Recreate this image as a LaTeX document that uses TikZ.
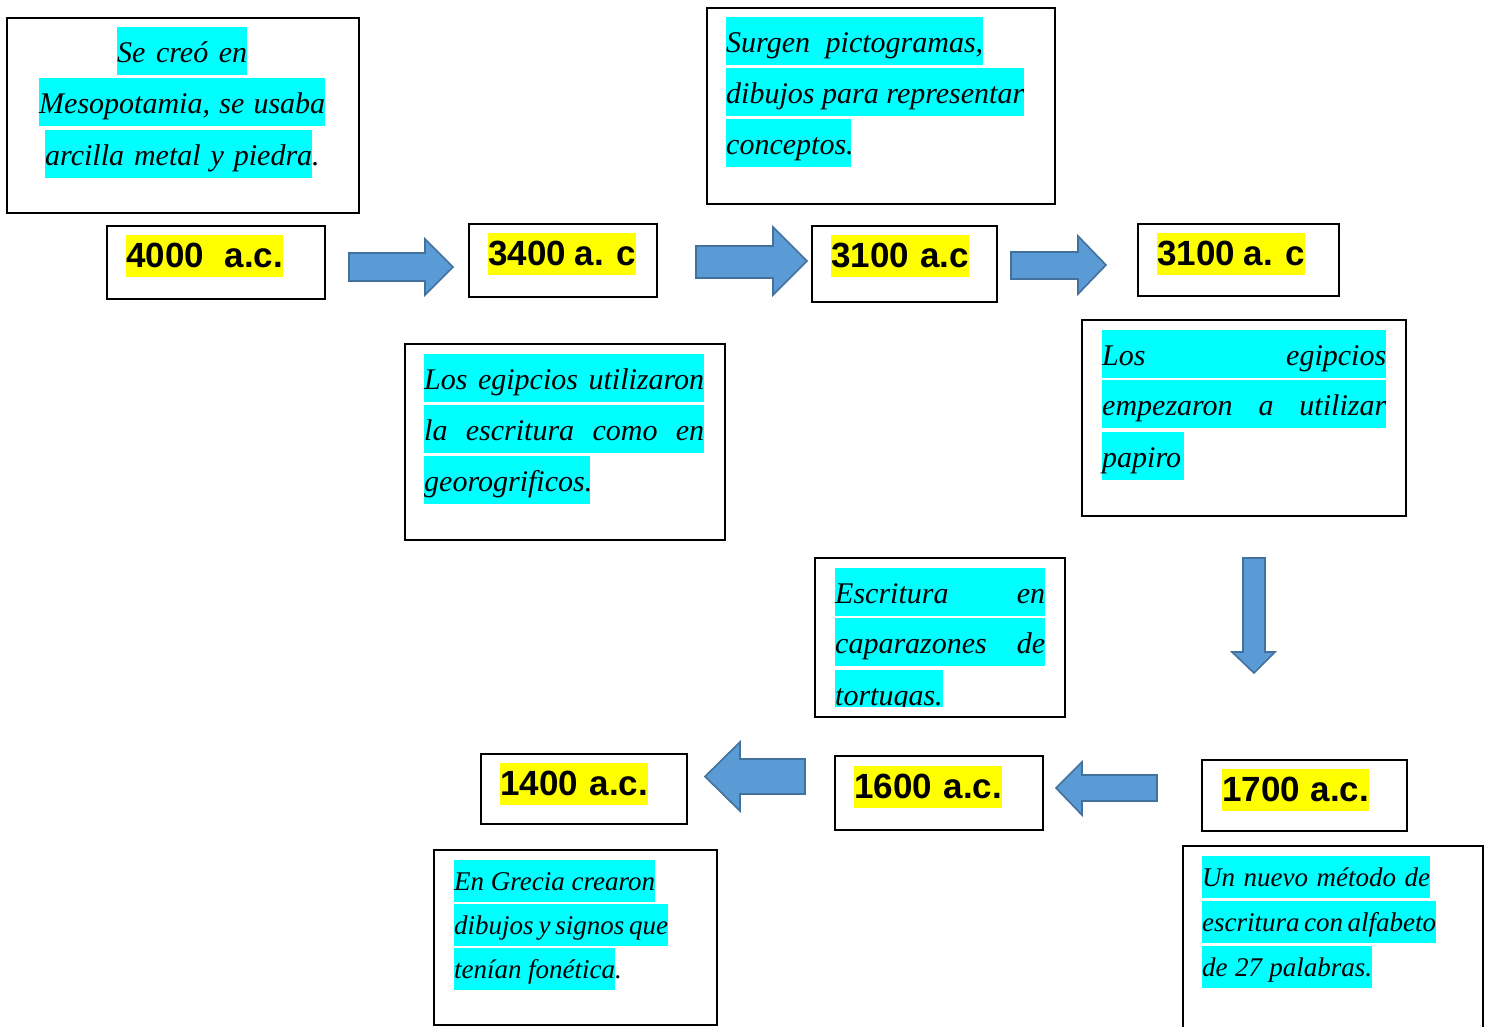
\documentclass[tikz,border=0pt]{standalone}
\usepackage{fontspec}
\setmainfont{Liberation Serif}
\newfontfamily\datefont{Liberation Sans}
\definecolor{hlcyan}{RGB}{0,255,255}
\definecolor{hlyellow}{RGB}{255,255,0}
\definecolor{arrfill}{RGB}{91,155,213}
\definecolor{arrline}{RGB}{65,113,156}
\newcommand\frbox[5]{\node[frame,minimum width=#4pt,minimum height=#5pt] (#1) at (#2,#3) {};}
\newcommand\hlline[5]{\node[#1] (#2) at (#3) {\makebox[#4pt][s]{#5}};}
\begin{document}
\begin{tikzpicture}[x=1pt,y=-1pt,
 frame/.style={draw=black, line width=2pt, anchor=north west, inner sep=0pt},
 hl/.style={fill=hlcyan, anchor=north west, inner sep=0pt, text height=35pt, text depth=13pt, font=\fontsize{30}{36}\selectfont\itshape},
 hls/.style={hl, text height=30pt, text depth=12pt, font=\fontsize{27}{32}\selectfont\itshape},
 datehl/.style={fill=hlyellow, anchor=north west, inner sep=0pt, text height=32pt, text depth=10pt, font=\fontsize{35}{42}\selectfont\datefont\bfseries},
 blockarrow/.style={fill=arrfill, draw=arrline, line width=1.6pt, line join=miter}]
\useasboundingbox[fill=white] (0,0) rectangle (1490,1026);

% frames
\frbox{b1}{6}{17}{352}{195}
\frbox{d4000}{106}{225}{218}{73}
\frbox{d3400}{468}{223}{188}{73}
\frbox{d3100a}{811}{225}{185}{76}
\frbox{d3100b}{1137}{223}{201}{72}
\frbox{bsurgen}{706}{7}{348}{196}
\frbox{begip}{404}{343}{320}{196}
\frbox{bpapiro}{1081}{319}{324}{196}
\frbox{btort}{814}{557}{250}{159}
\frbox{d1700}{1201}{759}{205}{71}
\frbox{d1600}{834}{755}{208}{74}
\frbox{d1400}{480}{753}{206}{70}
\frbox{bgrecia}{433}{849}{283}{175}
\frbox{bnuevo}{1182}{845}{300}{200}

% date labels
\hlline{datehl}{t4000}{126,235}{157}{4000\ \ a.c.}
\hlline{datehl}{t3400}{488,233}{148}{3400 a. c}
\hlline{datehl}{t3100a}{831,235}{138}{3100 a.c}
\hlline{datehl}{t3100b}{1157,233}{148}{3100 a. c}
\hlline{datehl}{t1700}{1222,769}{147}{1700 a.c.}
\hlline{datehl}{t1600}{854,766}{148}{1600 a.c.}
\hlline{datehl}{t1400}{500,763}{148}{1400 a.c.}

% text box 1
\hlline{hl}{a1}{117,27}{130}{Se creó en}
\hlline{hl}{a2}{39,78}{286}{Mesopotamia, se usaba}
\hlline{hl}{a3}{45,130}{267}{arcilla metal y piedra\rlap{.}}

% Surgen
\hlline{hl}{s1}{726,17}{257}{Surgen pictogramas,}
\hlline{hl}{s2}{726,68}{298}{dibujos para representar}
\hlline{hl}{s3}{726,119}{125}{conceptos.}

% egipcios 1
\hlline{hl}{e1}{424,354}{280}{Los egipcios utilizaron}
\hlline{hl}{e2}{424,405}{280}{la escritura como en}
\hlline{hl}{e3}{424,456}{166}{georogrificos.}

% papiro
\hlline{hl}{p1}{1102,330}{284}{Los egipcios}
\hlline{hl}{p2}{1102,380}{284}{empezaron a utilizar}
\hlline{hl}{p3}{1102,432}{82}{papiro}

% tortugas
\hlline{hl}{o1}{835,568}{210}{Escritura en}
\hlline{hl}{o2}{835,618}{210}{caparazones de}
\begin{scope}
\clip (835,670) rectangle (943,706);
\hlline{hl}{o3}{835,670}{108}{tortugas.}
\end{scope}

% Grecia
\hlline{hls}{g1}{454,860}{201}{En Grecia crearon}
\hlline{hls}{g2}{454,904}{214}{dibujos y signos que}
\hlline{hls}{g3}{454,948}{161}{tenían fonética\rlap{.}}

% nuevo
\hlline{hls}{n1}{1202,856}{228}{Un nuevo método de}
\hlline{hls}{n2}{1202,901}{234}{escritura con alfabeto}
\hlline{hls}{n3}{1202,946}{170}{de 27 palabras.}

% block arrows
\path[blockarrow] (349,253) -- (425,253) -- (425,239) -- (453,267) -- (425,295) -- (425,281) -- (349,281) -- cycle;
\path[blockarrow] (696,246) -- (773,246) -- (773,227) -- (807,261) -- (773,295) -- (773,278) -- (696,278) -- cycle;
\path[blockarrow] (1011,252) -- (1078,252) -- (1078,236) -- (1106,265) -- (1078,294) -- (1078,279) -- (1011,279) -- cycle;
\path[blockarrow] (1243,558) -- (1265,558) -- (1265,652) -- (1275,652) -- (1254,673) -- (1232,652) -- (1243,652) -- cycle;
\path[blockarrow] (1157,775) -- (1082,775) -- (1082,762) -- (1056,788) -- (1082,815) -- (1082,801) -- (1157,801) -- cycle;
\path[blockarrow] (805,759) -- (740,759) -- (740,742) -- (705,776.5) -- (740,811) -- (740,794) -- (805,794) -- cycle;
\end{tikzpicture}
\end{document}
